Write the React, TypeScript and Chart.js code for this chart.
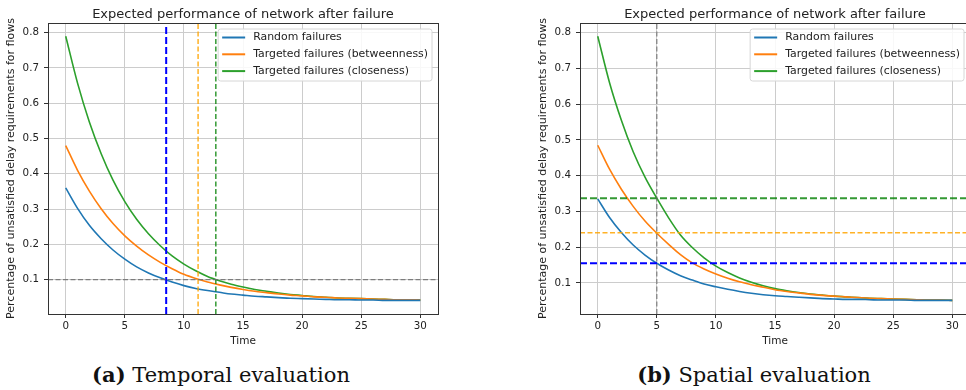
import React, { useEffect, useRef } from "react";
import { Chart, registerables } from "chart.js";

Chart.register(...registerables);

const time = [0, 1, 2, 3, 4, 5, 6, 7, 8, 9, 10, 11, 12, 13, 14, 15, 16, 17, 18, 19, 20, 21, 22, 23, 24, 25, 26, 27, 28, 29, 30];

const seriesLabels = ["Random failures", "Targeted failures (betweenness)", "Targeted failures (closeness)"];
const seriesColors = ["#1f77b4", "#ff7f0e", "#2ca02c"];

// (a) Temporal evaluation
const temporalRandom = [0.360, 0.302, 0.254, 0.216, 0.184, 0.158, 0.136, 0.119, 0.105, 0.093, 0.083, 0.075, 0.069, 0.064, 0.059, 0.056, 0.053, 0.051, 0.049, 0.047, 0.046, 0.045, 0.044, 0.043, 0.043, 0.042, 0.042, 0.041, 0.041, 0.041, 0.041];
const temporalBetweenness = [0.480, 0.410, 0.351, 0.301, 0.259, 0.224, 0.195, 0.170, 0.149, 0.131, 0.115, 0.103, 0.093, 0.085, 0.078, 0.072, 0.067, 0.063, 0.059, 0.056, 0.054, 0.051, 0.050, 0.048, 0.047, 0.046, 0.045, 0.044, 0.043, 0.043, 0.042];
const temporalCloseness = [0.790, 0.657, 0.547, 0.457, 0.382, 0.321, 0.271, 0.230, 0.196, 0.167, 0.144, 0.125, 0.109, 0.097, 0.087, 0.079, 0.072, 0.067, 0.062, 0.058, 0.055, 0.052, 0.050, 0.048, 0.047, 0.046, 0.045, 0.044, 0.043, 0.043, 0.042];
const temporalThresholdY = 0.1;
const temporalCrossTimes = [8.5, 11.2, 12.7];

// (b) Spatial evaluation
const spatialRandom = [0.335, 0.283, 0.241, 0.206, 0.178, 0.155, 0.136, 0.120, 0.108, 0.097, 0.089, 0.082, 0.076, 0.071, 0.067, 0.064, 0.062, 0.060, 0.058, 0.056, 0.055, 0.054, 0.054, 0.053, 0.052, 0.052, 0.052, 0.051, 0.051, 0.051, 0.051];
const spatialBetweenness = [0.485, 0.418, 0.362, 0.314, 0.273, 0.239, 0.208, 0.179, 0.156, 0.139, 0.125, 0.113, 0.103, 0.095, 0.088, 0.081, 0.076, 0.072, 0.068, 0.065, 0.063, 0.061, 0.059, 0.057, 0.056, 0.055, 0.054, 0.053, 0.052, 0.052, 0.051];
const spatialCloseness = [0.790, 0.660, 0.555, 0.467, 0.396, 0.337, 0.282, 0.234, 0.199, 0.170, 0.147, 0.129, 0.114, 0.102, 0.092, 0.084, 0.078, 0.073, 0.069, 0.066, 0.063, 0.061, 0.059, 0.057, 0.056, 0.055, 0.054, 0.053, 0.052, 0.052, 0.051];
const spatialThresholdX = 5;
const spatialLevelsAtThreshold = [0.155, 0.24, 0.337];

const xTicks = [0, 5, 10, 15, 20, 25, 30];
const yTicks = [0.1, 0.2, 0.3, 0.4, 0.5, 0.6, 0.7, 0.8];

const titleText = "Expected performance of network after failure";
const xTitle = "Time";
const yTitle = "Percentage of unsatisfied delay requirements for flows";

const FONT = '"DejaVu Sans", sans-serif';
const TEXT = "#222222";

const refStyles = [
  { color: "#0000ff", width: 2, dash: [7, 3] },
  { color: "rgba(255,165,0,0.85)", width: 1.5, dash: [5, 2.5] },
  { color: "rgba(0,128,0,0.8)", width: 1.5, dash: [5, 2.5] },
];
const refSpatial = [
  { color: "#0000ff", width: 2, dash: [7, 3] },
  { color: "rgba(255,165,0,0.85)", width: 1.5, dash: [5, 2.5] },
  { color: "rgba(0,128,0,0.8)", width: 2, dash: [7, 3] },
];

const framePlugin = {
  id: "frameAndText",
  afterDraw(chart: any) {
    const { ctx, chartArea } = chart;
    const a = chartArea;
    ctx.save();
    // spines
    ctx.strokeStyle = "#333333";
    ctx.lineWidth = 1;
    ctx.strokeRect(Math.round(a.left) + 0.5, Math.round(a.top) + 0.5, Math.round(a.right - a.left), Math.round(a.bottom - a.top));
    // title
    ctx.fillStyle = TEXT;
    ctx.font = `13px ${FONT}`;
    ctx.textAlign = "center";
    ctx.textBaseline = "alphabetic";
    ctx.fillText(titleText, (a.left + a.right) / 2, 17.5);
    // legend
    ctx.font = `10.9px ${FONT}`;
    let maxW = 0;
    seriesLabels.forEach((l) => (maxW = Math.max(maxW, ctx.measureText(l).width)));
    const boxW = 4 + 23 + 8 + maxW + 4;
    const boxH = 52;
    const bx = a.right - 6 - boxW;
    const by = a.top + 6;
    ctx.beginPath();
    const r = 2.5;
    ctx.moveTo(bx + r, by);
    ctx.lineTo(bx + boxW - r, by);
    ctx.quadraticCurveTo(bx + boxW, by, bx + boxW, by + r);
    ctx.lineTo(bx + boxW, by + boxH - r);
    ctx.quadraticCurveTo(bx + boxW, by + boxH, bx + boxW - r, by + boxH);
    ctx.lineTo(bx + r, by + boxH);
    ctx.quadraticCurveTo(bx, by + boxH, bx, by + boxH - r);
    ctx.lineTo(bx, by + r);
    ctx.quadraticCurveTo(bx, by, bx + r, by);
    ctx.closePath();
    ctx.fillStyle = "rgba(255,255,255,0.85)";
    ctx.fill();
    ctx.strokeStyle = "#d6d6d6";
    ctx.lineWidth = 1;
    ctx.stroke();
    ctx.textAlign = "left";
    ctx.textBaseline = "middle";
    seriesLabels.forEach((l, i) => {
      const yy = by + 8.5 + i * 16.8;
      ctx.strokeStyle = seriesColors[i];
      ctx.lineWidth = 2;
      ctx.beginPath();
      ctx.moveTo(bx + 4, yy);
      ctx.lineTo(bx + 27, yy);
      ctx.stroke();
      ctx.fillStyle = TEXT;
      ctx.fillText(l, bx + 35, yy);
    });
    ctx.restore();
  },
};

function makeConfig(series: number[][], refs: any[], yMin: number, yMax: number): any {
  const datasets: any[] = [];
  refs.forEach((r) =>
    datasets.push({
      label: "_ref",
      data: r.data,
      borderColor: r.color,
      borderWidth: r.width,
      borderDash: r.dash,
      pointRadius: 0,
      fill: false,
      order: 0,
    })
  );
  series.forEach((vals, i) =>
    datasets.push({
      label: seriesLabels[i],
      data: time.map((t, k) => ({ x: t, y: vals[k] })),
      borderColor: seriesColors[i],
      borderWidth: 1.6,
      pointRadius: 0,
      cubicInterpolationMode: "monotone",
      fill: false,
      order: 1,
    })
  );
  return {
    type: "line",
    data: { datasets },
    options: {
      animation: false,
      responsive: false,
      layout: { padding: { top: 23, right: 42, left: 0, bottom: 0 } },
      plugins: { legend: { display: false }, title: { display: false }, tooltip: { enabled: false } },
      scales: {
        x: {
          type: "linear",
          min: -1.5,
          max: 31.5,
          afterBuildTicks: (s: any) => {
            s.ticks = xTicks.map((v) => ({ value: v }));
          },
          afterFit: (s: any) => {
            s.height = 36;
          },
          ticks: { font: { family: FONT, size: 10.3 }, color: TEXT, padding: 2, maxRotation: 0, callback: (v: any) => String(v) },
          grid: { color: "#cccccc", lineWidth: 1, tickLength: 4, tickColor: "#333333" },
          border: { display: false },
          title: { display: true, text: xTitle, font: { family: FONT, size: 10.5 }, color: TEXT, padding: { top: 0, bottom: 2 } },
        },
        y: {
          type: "linear",
          min: yMin,
          max: yMax,
          afterBuildTicks: (s: any) => {
            s.ticks = yTicks.map((v) => ({ value: v }));
          },
          afterFit: (s: any) => {
            s.width = 48;
          },
          ticks: { font: { family: FONT, size: 10.3 }, color: TEXT, padding: 5, callback: (v: any) => Number(v).toFixed(1) },
          grid: { color: "#cccccc", lineWidth: 1, tickLength: 4, tickColor: "#333333" },
          border: { display: false },
          title: { display: true, text: yTitle, font: { family: FONT, size: 11 }, color: TEXT, padding: { top: 5, bottom: 0 } },
        },
      },
    },
    plugins: [framePlugin],
  };
}

function ChartCanvas({ config, left }: { config: any; left: number }) {
  const ref = useRef<HTMLCanvasElement | null>(null);
  useEffect(() => {
    if (!ref.current) return;
    const c = new Chart(ref.current, config);
    return () => c.destroy();
  }, []);
  return <canvas ref={ref} width={480} height={350} style={{ position: "absolute", left, top: 0, width: 480, height: 350 }} />;
}

const captionStyle: React.CSSProperties = {
  position: "absolute",
  top: 363,
  width: 442,
  textAlign: "center",
  fontFamily: '"DejaVu Serif", serif',
  fontSize: 21,
  lineHeight: "24px",
  color: "#111",
  whiteSpace: "nowrap",
};

export default function App() {
  const yMinT = 0.0025;
  const yMaxT = 0.8275;
  const yMinS = 0.013;
  const yMaxS = 0.827;
  const temporalRefs = [
    { data: [{ x: -1.5, y: temporalThresholdY }, { x: 31.5, y: temporalThresholdY }], color: "rgba(110,110,110,0.85)", width: 1.4, dash: [5, 2.5] },
    ...temporalCrossTimes.map((t, i) => ({ data: [{ x: t, y: yMinT }, { x: t, y: yMaxT }], ...refStyles[i] })),
  ];
  const spatialRefs = [
    { data: [{ x: spatialThresholdX, y: yMinS }, { x: spatialThresholdX, y: yMaxS }], color: "rgba(110,110,110,0.85)", width: 1.2, dash: [5, 2.5] },
    ...spatialLevelsAtThreshold.map((v, i) => ({ data: [{ x: -1.5, y: v }, { x: 31.5, y: v }], ...refSpatial[i] })),
  ];
  const cfgA = makeConfig([temporalRandom, temporalBetweenness, temporalCloseness], temporalRefs, yMinT, yMaxT);
  const cfgB = makeConfig([spatialRandom, spatialBetweenness, spatialCloseness], spatialRefs, yMinS, yMaxS);
  return (
    <div style={{ position: "fixed", left: 0, top: 0, width: 966, height: 390, overflow: "hidden", background: "#fff" }}>
      <ChartCanvas config={cfgA} left={0} />
      <ChartCanvas config={cfgB} left={532} />
      <div style={{ ...captionStyle, left: 0 }}>
        <b>(a)</b> Temporal evaluation
      </div>
      <div style={{ ...captionStyle, left: 533 }}>
        <b>(b)</b> Spatial evaluation
      </div>
    </div>
  );
}
